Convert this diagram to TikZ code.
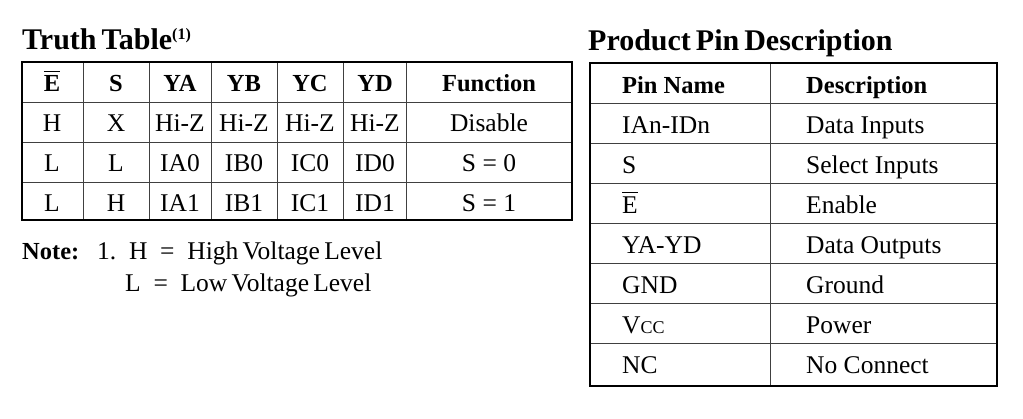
\documentclass[tikz,border=0pt]{standalone}
\usepackage{fontspec}
\setmainfont{Liberation Serif}
\newcommand\barE{\vbox{\hrule height 1.2pt\kern 3pt\hbox{E}}}
\begin{document}
\begin{tikzpicture}[x=1pt,y=-1pt,
  cell/.style={inner sep=0pt,anchor=base,font=\fontsize{25.5}{27}\selectfont},
  head/.style={cell,font=\fontsize{24.5}{26}\selectfont\bfseries},
  title/.style={inner sep=0pt,anchor=base west,font=\fontsize{30}{32}\selectfont\bfseries},
  grid/.style={line width=0.8pt,black!75},
  frame/.style={line width=2pt}]
  \useasboundingbox (0,0) rectangle (1023,418);

  % truth table
  \node[title] (tt) at (22,49) {Truth\,Table\textsuperscript{\fontsize{16}{17}\selectfont(1)}};
  \foreach \y in {102,142,182} \draw[grid] (22,\y) -- (572,\y);
  \foreach \x in {83,149,211,277,343,406} \draw[grid] (\x,62) -- (\x,220);
  \draw[frame] (22,62) rectangle (572,220);
  \node[head] (hE) at (52,91) {\barE};
  \foreach \t [count=\i] in {S,YA,YB,YC,YD,Function} {
    \pgfmathsetmacro\x{{0,116,180,244,310,375,489}[\i]}
    \node[head] (h\i) at (\x,91) {\t};
  }
  \foreach \a/\b/\c/\d/\e/\f/\g [count=\r] in {H/X/Hi-Z/Hi-Z/Hi-Z/Hi-Z/Disable,
      L/L/IA0/IB0/IC0/ID0/S = 0, L/H/IA1/IB1/IC1/ID1/S = 1} {
    \pgfmathsetmacro\y{91+40*\r}
    \node[cell] (r\r a) at (52,\y) {\a};
    \node[cell] (r\r b) at (116,\y) {\b};
    \node[cell] (r\r c) at (180,\y) {\c};
    \node[cell] (r\r d) at (244,\y) {\d};
    \node[cell] (r\r e) at (310,\y) {\e};
    \node[cell] (r\r f) at (375,\y) {\f};
    \node[cell] (r\r g) at (489,\y) {\g};
  }

  % note
  \node[cell,anchor=base west,font=\fontsize{24.5}{26}\selectfont\bfseries] (note) at (22,259) {Note:};
  \node[cell,anchor=base west] (n1) at (97,259) {1.\ \ H\ \ =\ \ High\,Voltage\,Level};
  \node[cell,anchor=base west] (n2) at (125,291) {L\ \ =\ \ Low\,Voltage\,Level};

  % pin description
  \node[title] (pd) at (588,50) {Product\,Pin\,Description};
  \foreach \y in {103,143,183,223,263,303,343} \draw[grid] (590,\y) -- (997,\y);
  \draw[grid] (770,63) -- (770,386);
  \draw[frame] (590,63) rectangle (997,386);
  \node[head,anchor=base west] (hpin) at (622,93) {Pin Name};
  \node[head,anchor=base west] (hdesc) at (806,93) {Description};
  \foreach \p/\d [count=\r] in {IAn-IDn/Data Inputs, S/Select Inputs,
      \barE/Enable, YA-YD/Data Outputs, GND/Ground,
      V{\fontsize{18}{19}\selectfont CC}/Power, NC/No Connect} {
    \pgfmathsetmacro\y{93+40*\r}
    \node[cell,anchor=base west] (p\r) at (622,\y) {\p};
    \node[cell,anchor=base west] (d\r) at (806,\y) {\d};
  }
\end{tikzpicture}
\end{document}
